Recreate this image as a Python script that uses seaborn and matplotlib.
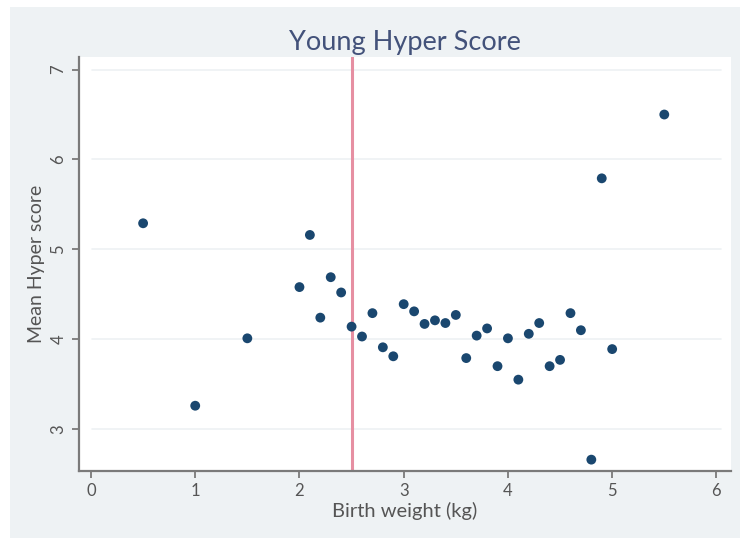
import matplotlib
matplotlib.use("Agg")
import matplotlib.pyplot as plt
from matplotlib.patches import Rectangle
import seaborn as sns
import pandas as pd

# Mean hyperactivity score by birth weight group
birth_weight = [0.5, 1.0, 1.5, 2.0, 2.1, 2.2, 2.3, 2.4, 2.5, 2.6, 2.7, 2.8, 2.9,
                3.0, 3.1, 3.2, 3.3, 3.4, 3.5, 3.6, 3.7, 3.8, 3.9, 4.0, 4.1, 4.2,
                4.3, 4.4, 4.5, 4.6, 4.7, 4.8, 4.9, 5.0, 5.5]
mean_score = [5.29, 3.26, 4.01, 4.58, 5.16, 4.24, 4.69, 4.52, 4.14, 4.03, 4.29,
              3.91, 3.81, 4.39, 4.31, 4.17, 4.21, 4.18, 4.27, 3.79, 4.04, 4.12,
              3.70, 4.01, 3.55, 4.06, 4.18, 3.70, 3.77, 4.29, 4.10, 2.66, 5.79,
              3.89, 6.50]
cutoff = 2.5
x_ticks = [0, 1, 2, 3, 4, 5, 6]
y_ticks = [3, 4, 5, 6, 7]

df = pd.DataFrame({"Birth weight (kg)": birth_weight, "Mean Hyper score": mean_score})

sns.set_theme(style="white")
plt.rcParams["font.family"] = ["Lato", "DejaVu Sans"]

bg = "#eef2f4"
axis_grey = "#7a7a7a"
text_grey = "#555555"

fig = plt.figure(figsize=(7.40, 5.41), dpi=100, facecolor="white")
# graph region panel behind the plot area
panel = Rectangle((10 / 740, 3 / 541), 730 / 740, 531 / 541,
                  transform=fig.transFigure, facecolor=bg,
                  edgecolor="none", zorder=-10)
fig.add_artist(panel)
ax = fig.add_axes([79 / 740, 1 - 470.7 / 541, (731 - 79) / 740, (470.7 - 57) / 541])
ax.set_zorder(1)
ax.set_facecolor("white")

ax.set_xlim(-0.115, 6.14)
ax.set_ylim(2.537, 7.14)

for yt in y_ticks:
    ax.axhline(yt, xmin=0.02, xmax=0.985, color="#edf1f3", lw=1.2, zorder=0)

ax.axvline(cutoff, color="#e68fa2", lw=2.2, zorder=1)

sns.scatterplot(data=df, x="Birth weight (kg)", y="Mean Hyper score", ax=ax,
                color="#1a476f", s=50, edgecolor="none", zorder=3)

ax.set_xticks(x_ticks)
ax.set_yticks(y_ticks)
ax.set_xticklabels([str(v) for v in x_ticks], fontsize=12, color=text_grey)
ax.set_yticklabels([str(v) for v in y_ticks], fontsize=12, color=text_grey,
                   rotation=90, va="center")
ax.tick_params(axis="both", which="major", length=5, width=1.3, color=axis_grey,
               direction="out", pad=4, bottom=True, left=True)

for side in ("top", "right"):
    ax.spines[side].set_visible(False)
for side in ("left", "bottom"):
    ax.spines[side].set_color(axis_grey)
    ax.spines[side].set_linewidth(1.6)

ax.set_xlabel("Birth weight (kg)", fontsize=14.5, color=text_grey, labelpad=2)
ax.set_ylabel("Mean Hyper score", fontsize=14, color=text_grey, labelpad=4)
ax.set_title("Young Hyper Score", fontsize=19.5, color="#43527a", pad=5)

fig.savefig("out.png", dpi=100, facecolor=fig.get_facecolor())
